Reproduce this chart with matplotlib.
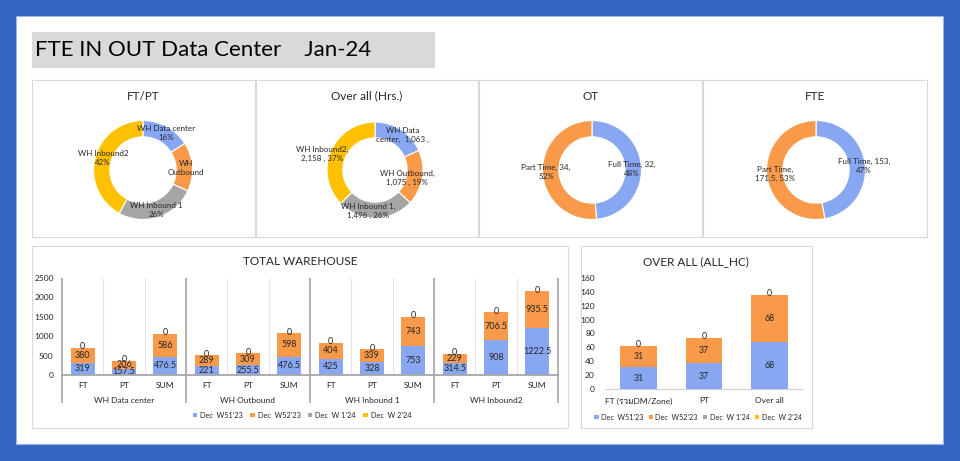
import matplotlib
matplotlib.use("Agg")
import matplotlib.pyplot as plt
from matplotlib import font_manager
from matplotlib.ft2font import FT2Font
from matplotlib.patches import Rectangle, Patch
from matplotlib.transforms import blended_transform_factory
import numpy as np

# find an installed family that has Thai glyphs
thai_family = None
for fe in font_manager.fontManager.ttflist:
    try:
        cm = FT2Font(fe.fname).get_charmap()
        if all(ord(c) in cm for c in "รวม"):
            thai_family = fe.name
            break
    except Exception:
        pass
families = ['Lato', 'DejaVu Sans']
if thai_family:
    families.append(thai_family)
plt.rcParams['font.family'] = families

# ---------------- data ----------------
title_text = "FTE IN OUT Data Center    Jan-24"

ftpt_names = ["WH Data center", "WH Outbound", "WH Inbound 1", "WH Inbound2"]
ftpt_pct = [16, 16, 26, 42]

hrs_names = ["WH Data center", "WH Outbound", "WH Inbound 1", "WH Inbound2"]
hrs_values = [1063, 1075, 1496, 2158]

ot_names = ["Full Time", "Part Time"]
ot_values = [32, 34]

fte_names = ["Full Time", "Part Time"]
fte_values = [153, 171.5]

wh_groups = ["WH Data center", "WH Outbound", "WH Inbound 1", "WH Inbound2"]
wh_cats = ["FT", "PT", "SUM"]
wh_w51 = [319, 157.5, 476.5, 221, 255.5, 476.5, 425, 328, 753, 314.5, 908, 1222.5]
wh_w52 = [380, 206, 586, 289, 309, 598, 404, 339, 743, 229, 706.5, 935.5]
wh_w1 = [0] * 12
wh_w2 = [0] * 12

all_cats = ["FT (รวมDM/Zone)", "PT", "Over all"]
all_w51 = [31, 37, 68]
all_w52 = [31, 37, 68]
all_w1 = [0, 0, 0]
all_w2 = [0, 0, 0]

series_names = ["Dec  W51'23", "Dec  W52'23", "Dec  W 1'24", "Dec  W 2'24"]

# ---------------- style ----------------
BLUE = '#87A7F2'
ORANGE = '#F99A4B'
GRAY = '#A5A5A5'
YELLOW = '#FFC000'
colors = [BLUE, ORANGE, GRAY, YELLOW]
TXT = '#262626'
FRAME = '#D9D9D9'

W, H = 960, 461
fig = plt.figure(figsize=(W / 100, H / 100), dpi=100)
fig.patch.set_facecolor('#3366C0')


def px_axes(l, t, r, b, z=1):
    return fig.add_axes([l / W, 1 - b / H, (r - l) / W, (b - t) / H], zorder=z)


# background canvas
bg = px_axes(0, 0, W, H, z=0)
bg.set_xlim(0, W)
bg.set_ylim(H, 0)
bg.axis('off')
bg.add_patch(Rectangle((16, 16), 943 - 16, 444 - 16, facecolor='white', edgecolor='#9DB6E6', lw=0.8))
bg.add_patch(Rectangle((32, 32), 435 - 32, 68 - 32, facecolor='#D9D9D9', edgecolor='none'))
bg.text(35, 50.5, title_text, fontsize=16, va='center', ha='left', color='black')

# panel frames
for (l, t, r, b) in [(32, 80, 255, 237), (256, 80, 478, 237), (479, 80, 702, 237),
                     (703, 80, 927, 237), (32, 246, 568, 428), (581, 246, 812, 428)]:
    bg.add_patch(Rectangle((l, t), r - l, b - t, facecolor='white', edgecolor=FRAME, lw=0.8))

# ---------------- donuts ----------------
def donut(cx, cy, R, values, cols, title, title_x, labels, label_pos):
    m = 60
    ax = px_axes(cx - R - m, cy - R - m, cx + R + m, cy + R + m, z=2)
    ax.pie(values, colors=cols, startangle=90, counterclock=False, radius=R,
           wedgeprops=dict(width=R * 0.33, edgecolor='white', linewidth=0.8))
    ax.set_xlim(-R - m, R + m)
    ax.set_ylim(-R - m, R + m)
    ax.set_aspect('equal')
    ax.axis('off')
    for lab, (px, py) in zip(labels, label_pos):
        ax.text(px - cx, cy - py, lab, ha='center', va='center', fontsize=5.8,
                color=TXT, linespacing=1.2)
    bg.text(title_x, 96, title, ha='center', va='center', fontsize=8.5, color=TXT)


lab1 = [f"{ftpt_names[0]}\n{ftpt_pct[0]}%", "WH\nOutbound",
        f"{ftpt_names[2]}\n{ftpt_pct[2]}%", f"{ftpt_names[3]}\n{ftpt_pct[3]}%"]
donut(143, 170, 49.5, ftpt_pct, colors, "FT/PT", 143, lab1,
      [(166, 133), (186, 168), (156, 210), (103, 158)])

htot = sum(hrs_values)
hp = [round(v / htot * 100) for v in hrs_values]
lab2 = [f"WH Data\ncenter,  {hrs_values[0]:,} ,",
        f"{hrs_names[1]},\n{hrs_values[1]:,} , {hp[1]}%",
        f"{hrs_names[2]},\n{hrs_values[2]:,} , {hp[2]}%",
        f"{hrs_names[3]},\n{hrs_values[3]:,} , {hp[3]}%"]
donut(375, 170, 48, hrs_values, colors, "Over all (Hrs.)", 367, lab2,
      [(403, 135), (407, 178), (368, 211), (322, 154)])

otot = sum(ot_values)
lab3 = [f"{ot_names[0]}, {ot_values[0]},\n{round(ot_values[0] / otot * 100)}%",
        f"{ot_names[1]}, {ot_values[1]},\n{round(ot_values[1] / otot * 100)}%"]
donut(592, 170, 49.5, ot_values, [BLUE, ORANGE], "OT", 591, lab3,
      [(632, 169), (546, 172)])

ftot = sum(fte_values)
lab4 = [f"{fte_names[0]}, {fte_values[0]},\n{round(fte_values[0] / ftot * 100)}%",
        f"{fte_names[1]},\n{fte_values[1]}, {round(fte_values[1] / ftot * 100)}%"]
donut(816, 170, 49.5, fte_values, [BLUE, ORANGE], "FTE", 815, lab4,
      [(864, 166), (775, 174)])

# ---------------- TOTAL WAREHOUSE ----------------
ax = px_axes(62, 278, 558, 375, z=2)
x = np.arange(len(wh_w51))
bw = 0.58
b1 = np.array(wh_w51)
b2 = np.array(wh_w52)
b3 = np.array(wh_w1)
b4 = np.array(wh_w2)
ax.bar(x, b1, bw, color=BLUE, zorder=3)
ax.bar(x, b2, bw, bottom=b1, color=ORANGE, zorder=3)
ax.bar(x, b3, bw, bottom=b1 + b2, color=GRAY, zorder=3)
ax.bar(x, b4, bw, bottom=b1 + b2 + b3, color=YELLOW, zorder=3)
for i in range(len(x)):
    ax.text(x[i], b1[i] / 2, f"{wh_w51[i]:g}", ha='center', va='center', fontsize=6.5, color=TXT, zorder=4)
    ax.text(x[i], b1[i] + b2[i] / 2, f"{wh_w52[i]:g}", ha='center', va='center', fontsize=6.5, color=TXT, zorder=4)
    ax.text(x[i], b1[i] + b2[i] + b3[i] + b4[i] + 25, f"{wh_w2[i]:g}", ha='center', va='center',
            fontsize=6.5, color=TXT, zorder=4)
ax.set_xlim(-0.5, len(x) - 0.5)
ax.set_ylim(0, 2500)
ax.set_yticks(np.arange(0, 2501, 500))
ax.tick_params(axis='y', length=0, labelsize=6, labelcolor=TXT, pad=6)
ax.set_xticks(x, wh_cats * 4)
ax.tick_params(axis='x', length=0, labelsize=6, labelcolor=TXT, pad=5)
for s in ['top', 'right', 'left']:
    ax.spines[s].set_visible(False)
ax.spines['bottom'].set_color('#A6A6A6')
ax.spines['bottom'].set_linewidth(1.3)
ax.spines['bottom'].set_zorder(5)
tr = blended_transform_factory(ax.transData, ax.transAxes)
for k in range(len(x) - 1):
    if (k + 1) % 3 != 0:
        ax.vlines(k + 0.5, 0, 1, transform=tr, color='#E4E4E4', lw=0.8, zorder=1)
for bx in [-0.5, 2.5, 5.5, 8.5, 11.5]:
    ax.vlines(bx, -0.29, 1, transform=tr, color='#A6A6A6', lw=1.2, clip_on=False, zorder=2)
for g, name in enumerate(wh_groups):
    ax.text(g * 3 + 1, -0.26, name, transform=tr, ha='center', va='center', fontsize=6, color=TXT)
bg.text(300, 261, "TOTAL WAREHOUSE", ha='center', va='center', fontsize=8.5, color=TXT)
handles = [Patch(facecolor=c, edgecolor='none') for c in colors]
fig.legend(handles, series_names, loc='center', bbox_to_anchor=(302 / W, 1 - 415 / H),
           ncol=4, frameon=False, fontsize=5.3, handlelength=0.6, handleheight=0.6,
           handletextpad=0.4, columnspacing=1.0, labelcolor=TXT)

# ---------------- OVER ALL (ALL_HC) ----------------
ax2 = px_axes(606, 278, 802, 389, z=2)
x2 = np.arange(len(all_cats))
a1 = np.array(all_w51)
a2 = np.array(all_w52)
a3 = np.array(all_w1)
a4 = np.array(all_w2)
bw2 = 0.56
ax2.bar(x2, a1, bw2, color=BLUE, zorder=3)
ax2.bar(x2, a2, bw2, bottom=a1, color=ORANGE, zorder=3)
ax2.bar(x2, a3, bw2, bottom=a1 + a2, color=GRAY, zorder=3)
ax2.bar(x2, a4, bw2, bottom=a1 + a2 + a3, color=YELLOW, zorder=3)
for i in range(len(x2)):
    ax2.text(x2[i], a1[i] / 2, f"{all_w51[i]:g}", ha='center', va='center', fontsize=6.3, color=TXT, zorder=4)
    ax2.text(x2[i], a1[i] + a2[i] / 2, f"{all_w52[i]:g}", ha='center', va='center', fontsize=6.3, color=TXT, zorder=4)
    ax2.text(x2[i], a1[i] + a2[i] + a3[i] + a4[i] + 2, f"{all_w2[i]:g}", ha='center', va='center',
             fontsize=6.3, color=TXT, zorder=4)
ax2.set_xlim(-0.5, len(x2) - 0.5)
ax2.set_ylim(0, 160)
ax2.set_yticks(np.arange(0, 161, 20))
ax2.tick_params(axis='y', length=0, labelsize=6, labelcolor=TXT, pad=8)
ax2.set_xticks(x2, all_cats)
ax2.tick_params(axis='x', length=0, labelsize=6, labelcolor=TXT, pad=6)
for s in ['top', 'right', 'left']:
    ax2.spines[s].set_visible(False)
ax2.spines['bottom'].set_color('#D0D0D0')
ax2.spines['bottom'].set_linewidth(0.8)
bg.text(696, 262, "OVER ALL (ALL_HC)", ha='center', va='center', fontsize=8.5, color=TXT)
fig.legend(handles, series_names, loc='center', bbox_to_anchor=(698 / W, 1 - 417 / H),
           ncol=4, frameon=False, fontsize=5.2, handlelength=0.6, handleheight=0.6,
           handletextpad=0.35, columnspacing=0.7, labelcolor=TXT)

fig.savefig("out.png", dpi=100, facecolor=fig.get_facecolor())
